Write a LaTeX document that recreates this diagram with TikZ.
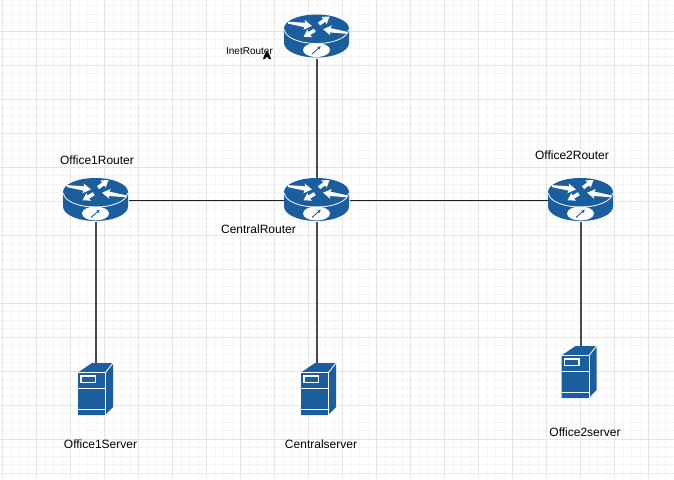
\documentclass[tikz,border=0pt]{standalone}
\usepackage{fontspec}
\setmainfont{Liberation Sans}
\usetikzlibrary{arrows.meta}
\definecolor{iconblue}{HTML}{1B5E9E}
\definecolor{gridminor}{HTML}{F6F6F6}
\definecolor{gridmajor}{HTML}{E6E6E6}
\definecolor{wirecol}{HTML}{222222}
\definecolor{vwirecol}{HTML}{4A4A4A}
\tikzset{
  x=1pt,y=-1pt,
  routerbox/.style={inner sep=0pt,minimum width=65pt,minimum height=43pt},
  serverbox/.style={inner sep=0pt,minimum width=35pt,minimum height=52pt},
  lbl/.style={inner sep=0pt,font=\fontsize{12}{14}\selectfont,text=black},
  smalllbl/.style={inner sep=0pt,font=\fontsize{10}{12}\selectfont,text=black},
  wire/.style={draw=wirecol,line width=1pt},
  vwire/.style={draw=vwirecol,line width=1.2pt},
  bigarrow/.pic={
    \fill[white] (-12,-1) -- (5,-2.2) -- (4,-5) -- (12,0) -- (4,5) -- (5,2.2) -- (-12,1) -- cycle;
  },
  smallarrow/.pic={
    \fill[white] (-6.5,-1.8) -- (0,-1.8) -- (-0.5,-4.5) -- (6.5,0) -- (-0.5,4.5) -- (0,1.8) -- (-6.5,1.8) -- cycle;
  },
  routericon/.pic={
    \fill[iconblue] (-32.5,-7.5) arc[start angle=180,end angle=360,x radius=32.5,y radius=14]
      -- (32.5,7) arc[start angle=0,end angle=180,x radius=32.5,y radius=14.5] -- cycle;
    \draw[white,line width=0.8pt] (-32,-6.5) arc[start angle=180,end angle=0,x radius=32,y radius=14];
    \pic[rotate=-8] at (-16.5,-11.7) {bigarrow};
    \pic[rotate=36] at (7.8,-15.7) {smallarrow};
    \pic[rotate=-150] at (-7.3,-2.5) {smallarrow};
    \pic[rotate=-188.5] at (18.5,-5) {bigarrow};
    \fill[white] (0,14) ellipse[x radius=13.5,y radius=7];
    \draw[iconblue,line width=0.9pt,-{Latex[length=3.5pt,width=3.5pt]}] (-4.5,18) -- (4.5,10);
  },
  servericon/.pic={
    \fill[iconblue] (-17.5,-16.5) -- (-3.5,-26) -- (17.5,-26) -- (17.5,18) -- (9.5,26) -- (-17.5,26) -- cycle;
    \draw[white,line width=0.9pt] (-17.5,-16.5) -- (10,-16.5) -- (17.5,-26);
    \draw[white,line width=0.9pt] (10,-16.5) -- (10,26);
    \draw[white,line width=1pt] (-17.5,-0.5) -- (10,-0.5);
    \draw[white,line width=1pt] (-17.5,20.5) -- (10,20.5);
    \draw[white,line width=1.3pt] (-14.5,-13) rectangle (0,-6.8);
  },
}
\begin{document}
\begin{tikzpicture}
\useasboundingbox (0,0) rectangle (674,479);
\fill[white] (0,0) rectangle (674,479);
% grid
\foreach \i in {0,...,80}{
  \draw[gridminor,line width=1pt] ({2.5+8.5*\i},0) -- ({2.5+8.5*\i},479);
}
\foreach \i in {0,...,57}{
  \draw[gridminor,line width=1pt] (0,{5.5+8.5*\i}) -- (674,{5.5+8.5*\i});
}
\foreach \i in {0,...,19}{
  \draw[gridmajor,line width=1pt] ({2.5+34*\i},0) -- ({2.5+34*\i},479);
}
\foreach \i in {0,...,13}{
  \draw[gridmajor,line width=1pt] (0,{31.5+34*\i}) -- (674,{31.5+34*\i});
}
% placement
\node[routerbox] (inet) at (317,37) {};
\node[routerbox] (central) at (317,200.5) {};
\node[routerbox] (office1) at (96,200.5) {};
\node[routerbox] (office2) at (581,200.5) {};
\node[serverbox] (srv1) at (96,389) {};
\node[serverbox] (srvc) at (317,389) {};
\node[serverbox] (srv2) at (581,372) {};
% connectors
\draw[vwire] (inet.south) -- (central.north);
\draw[wire] (office1.east) -- (central.west);
\draw[wire] (central.east) -- (office2.west);
\draw[vwire] (office1.south) -- (srv1.north);
\draw[vwire] (central.south) -- (srvc.north);
\draw[vwire] (office2.south) -- (srv2.north);
% icons
\pic at ([shift={(-.5pt,1pt)}]inet.center) {routericon};
\pic at ([shift={(-.5pt,1pt)}]central.center) {routericon};
\pic at ([shift={(-.5pt,1pt)}]office1.center) {routericon};
\pic at ([shift={(-.5pt,1pt)}]office2.center) {routericon};
\pic at ([xshift=-.5pt]srv1.center) {servericon};
\pic at ([xshift=1.5pt]srvc.center) {servericon};
\pic at ([xshift=-2pt]srv2.center) {servericon};
% labels
\node[smalllbl] (linet) at (249.5,51.5) {InetRouter};
\node[lbl] (lo1) at (97,160) {Office1Router};
\node[lbl] (lo2) at (572,155) {Office2Router};
\node[lbl] (lc) at (258.5,229) {CentralRouter};
\node[lbl] (ls1) at (100.5,444) {Office1Server};
\node[lbl] (lsc) at (321,444) {Centralserver};
\node[lbl] (ls2) at (585,432) {Office2server};
% mouse cursor
\fill[black] (267,50.5) -- (270,56) -- (271,59) -- (269,59) -- (267,56.5) -- (265,59) -- (263,59) -- (264,56) -- cycle;
\end{tikzpicture}
\end{document}
